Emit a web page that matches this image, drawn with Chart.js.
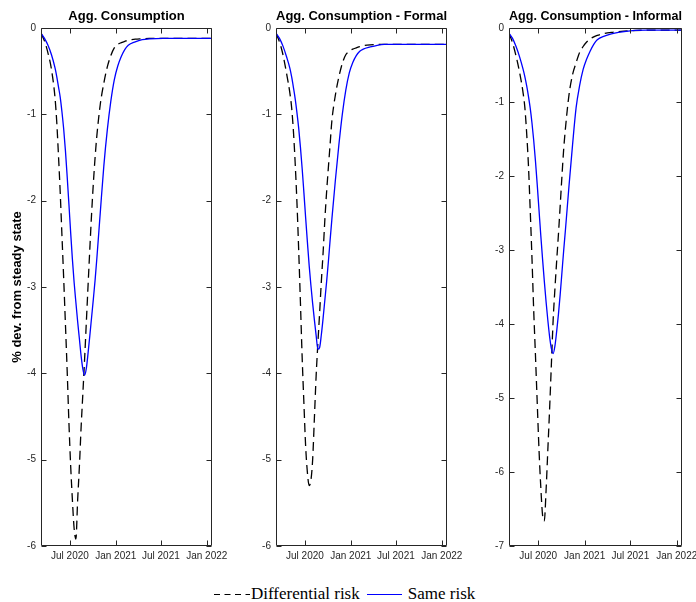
<!DOCTYPE html>
<html>
<head>
<meta charset="utf-8">
<script src="https://cdn.jsdelivr.net/npm/chart.js@4.4.1/dist/chart.umd.min.js"></script>
<style>
  html, body { margin: 0; padding: 0; background: #fff; overflow: hidden; }
  #page { position: relative; width: 696px; height: 602px; }
  canvas { position: absolute; top: 0; }
  #legend { position: absolute; left: 213px; top: 582px; height: 24px; display: flex; align-items: center;
            font-family: 'Liberation Serif', serif; font-size: 17px; color: #000; white-space: nowrap; }
  #legend svg { display: block; }
</style>
</head>
<body>
<div id="page">
  <canvas id="c1" width="234" height="570" style="left:0px"></canvas>
  <canvas id="c2" width="233" height="570" style="left:236px"></canvas>
  <canvas id="c3" width="227" height="570" style="left:469px"></canvas>
  <div id="legend"></div>
</div>
<script>
// x values are days counted from 1 Jan 2020
var days = [66, 80, 94, 108, 122, 129, 136, 143, 150, 157, 164, 171, 178, 185, 192, 199, 206, 213, 220, 227,
            234, 241, 248, 255, 262, 269, 276, 283, 290, 304, 318, 332, 346, 360, 374, 388, 402, 416, 444, 472,
            500, 556, 612, 668, 724, 752];
var tickDays = [182, 366, 547, 731];
var tickLabels = ['Jul 2020', 'Jan 2021', 'Jul 2021', 'Jan 2022'];
var seriesNames = ['Differential risk', 'Same risk'];
var panelTitles = ['Agg. Consumption', 'Agg. Consumption - Formal', 'Agg. Consumption - Informal'];
var yAxisTitle = '% dev. from steady state';
var yMins = [-6, -6, -7];

var aggDiff = [-0.06, -0.15, -0.29, -0.48, -0.8, -1.08, -1.47, -1.9, -2.4, -2.9, -3.43, -3.97, -4.57, -5.07, -5.47, -5.8,
               -5.92, -5.47, -5.08, -4.62, -4.23, -3.83, -3.4, -2.97, -2.55, -2.15, -1.8, -1.5, -1.25, -0.88, -0.64, -0.45,
               -0.32, -0.23, -0.19, -0.17, -0.155, -0.14, -0.13, -0.125, -0.12, -0.12, -0.12, -0.12, -0.12, -0.12];
var aggSame = [-0.06, -0.12, -0.2, -0.31, -0.46, -0.56, -0.68, -0.8, -0.97, -1.17, -1.42, -1.72, -2.04, -2.37, -2.68, -2.95,
               -3.18, -3.4, -3.6, -3.8, -3.95, -4.02, -3.94, -3.76, -3.56, -3.35, -3.14, -2.92, -2.67, -2.13, -1.6, -1.18,
               -0.85, -0.6, -0.44, -0.33, -0.25, -0.2, -0.16, -0.135, -0.125, -0.12, -0.12, -0.12, -0.12, -0.12];
var formalDiff = [-0.06, -0.16, -0.31, -0.52, -0.76, -0.93, -1.2, -1.57, -2.02, -2.57, -3.18, -3.82, -4.35, -4.85, -5.15, -5.3,
                  -5.24, -5.0, -4.52, -4.03, -3.65, -3.3, -2.93, -2.6, -2.22, -1.9, -1.62, -1.35, -1.08, -0.78, -0.57, -0.41,
                  -0.31, -0.27, -0.245, -0.23, -0.215, -0.205, -0.195, -0.19, -0.19, -0.19, -0.19, -0.19, -0.19, -0.19];
var formalSame = [-0.06, -0.12, -0.21, -0.33, -0.47, -0.57, -0.69, -0.82, -0.98, -1.16, -1.38, -1.63, -1.91, -2.2, -2.48, -2.75,
                  -2.98, -3.19, -3.38, -3.56, -3.72, -3.7, -3.55, -3.36, -3.15, -2.94, -2.71, -2.46, -2.22, -1.77, -1.36, -1.0,
                  -0.72, -0.52, -0.4, -0.32, -0.27, -0.245, -0.22, -0.2, -0.19, -0.19, -0.19, -0.19, -0.19, -0.19];
var informalDiff = [-0.07, -0.2, -0.38, -0.6, -0.88, -1.08, -1.42, -1.85, -2.45, -3.1, -3.82, -4.43, -5.07, -5.7, -6.2, -6.58,
                    -6.66, -6.25, -5.7, -5.15, -4.55, -3.95, -3.53, -3.15, -2.79, -2.4, -2.0, -1.63, -1.35, -0.9, -0.63, -0.47,
                    -0.33, -0.25, -0.19, -0.15, -0.12, -0.1, -0.075, -0.06, -0.05, -0.035, -0.03, -0.03, -0.03, -0.03];
var informalSame = [-0.07, -0.14, -0.25, -0.39, -0.56, -0.66, -0.78, -0.92, -1.08, -1.28, -1.52, -1.8, -2.12, -2.46, -2.8, -3.12,
                    -3.42, -3.7, -3.95, -4.17, -4.33, -4.4, -4.3, -4.1, -3.87, -3.6, -3.3, -3.0, -2.72, -2.13, -1.58, -1.08,
                    -0.78, -0.56, -0.42, -0.31, -0.22, -0.16, -0.11, -0.08, -0.06, -0.035, -0.03, -0.03, -0.03, -0.03];

Chart.defaults.font.family = "'Liberation Sans', Arial, sans-serif";
Chart.defaults.animation = false;

var axisColor = '#262626';

// MATLAB style box with inward ticks on all four sides
var axisBox = {
    id: 'axisBox',
    afterDatasetsDraw: function(chart) {
        var ctx = chart.ctx;
        var a = chart.chartArea;
        var xs = chart.scales.x, ys = chart.scales.y;
        var l = Math.round(a.left) + 0.5, r = Math.round(a.right) - 0.5;
        var t = Math.round(a.top) + 0.5, b = Math.round(a.bottom) - 0.5;
        var len = 5;
        ctx.save();
        ctx.strokeStyle = axisColor;
        ctx.lineWidth = 1;
        ctx.setLineDash([]);
        ctx.beginPath();
        ctx.rect(l, t, r - l, b - t);
        ys.ticks.forEach(function(tk) {
            var py = Math.round(ys.getPixelForValue(tk.value)) + 0.5;
            ctx.moveTo(l, py); ctx.lineTo(l + len, py);
            ctx.moveTo(r, py); ctx.lineTo(r - len, py);
        });
        xs.ticks.forEach(function(tk) {
            var px = Math.round(xs.getPixelForValue(tk.value)) + 0.5;
            ctx.moveTo(px, b); ctx.lineTo(px, b - len);
            ctx.moveTo(px, t); ctx.lineTo(px, t + len);
        });
        ctx.stroke();
        ctx.restore();
    }
};

function toPoints(vals) {
    return days.map(function(d, i) { return {x: d, y: vals[i]}; });
}

function makePanel(canvasId, idx, diff, same, leftW, padRight) {
    var showYTitle = idx === 0;
    return new Chart(document.getElementById(canvasId), {
        type: 'line',
        data: {
            datasets: [
                { label: seriesNames[0], data: toPoints(diff), borderColor: '#000000', borderWidth: 1.3,
                  borderDash: [9, 5], pointRadius: 0, cubicInterpolationMode: 'monotone', fill: false, order: 1 },
                { label: seriesNames[1], data: toPoints(same), borderColor: '#0000ff', borderWidth: 1.3,
                  pointRadius: 0, cubicInterpolationMode: 'monotone', fill: false, order: 0 }
            ]
        },
        options: {
            responsive: false,
            animation: false,
            layout: { padding: { left: 0, right: padRight, top: 0, bottom: 0 } },
            plugins: {
                legend: { display: false },
                tooltip: { enabled: false },
                title: {
                    display: true,
                    text: panelTitles[idx],
                    fullSize: false,
                    color: '#000',
                    font: { size: 13, weight: 'bold' },
                    padding: { top: 9, bottom: 3.4 }
                }
            },
            scales: {
                x: {
                    type: 'linear',
                    min: 66,
                    max: 752,
                    grid: { display: false, drawTicks: false },
                    border: { display: false },
                    afterBuildTicks: function(s) {
                        s.ticks = tickDays.map(function(d) { return {value: d}; });
                    },
                    afterFit: function(s) {
                        s.height = 24;
                        // labels may hang past the plot edge, like in the original
                        s.paddingLeft = 0;
                        s.paddingRight = 0;
                    },
                    ticks: {
                        autoSkip: false,
                        maxRotation: 0,
                        padding: 4,
                        color: axisColor,
                        font: { size: 10 },
                        callback: function(v) {
                            var i = tickDays.indexOf(v);
                            return i >= 0 ? tickLabels[i] : '';
                        }
                    }
                },
                y: {
                    min: yMins[idx],
                    max: 0,
                    grid: { display: false, drawTicks: false },
                    border: { display: false },
                    afterFit: function(s) { s.width = leftW; },
                    ticks: { stepSize: 1, padding: 5, color: axisColor, font: { size: 10 } },
                    title: {
                        display: showYTitle,
                        text: yAxisTitle,
                        color: '#000',
                        font: { size: 13, weight: 'bold' },
                        padding: { top: 9.2, bottom: 0 }
                    }
                }
            }
        },
        plugins: [axisBox]
    });
}

makePanel('c1', 0, aggDiff, aggSame, 41, 22);
makePanel('c2', 1, formalDiff, formalSame, 40, 22);
makePanel('c3', 2, informalDiff, informalSame, 40, 14);

// legend under the panels
var legend = document.getElementById('legend');
legend.innerHTML =
    '<svg width="38" height="24"><line x1="1" y1="12.5" x2="37" y2="12.5" stroke="#000" stroke-width="1.2" stroke-dasharray="6 4.5"/></svg>' +
    '<span>' + seriesNames[0] + '</span>' +
    '<svg width="42" height="24" style="margin-left:6px"><line x1="1" y1="12.5" x2="36" y2="12.5" stroke="#0000ff" stroke-width="1.2"/></svg>' +
    '<span>' + seriesNames[1] + '</span>';
</script>
</body>
</html>
